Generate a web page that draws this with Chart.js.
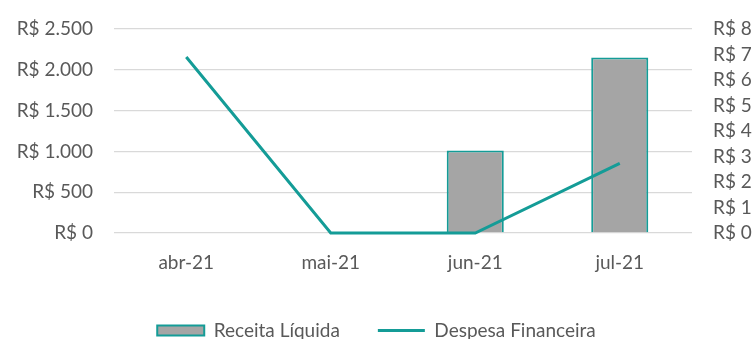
<!DOCTYPE html>
<html>
<head>
<meta charset="utf-8">
<script src="https://cdn.jsdelivr.net/npm/chart.js@4/dist/chart.umd.min.js"></script>
<style>
  html, body { margin: 0; padding: 0; background: #ffffff; }
  #wrap { width: 753px; height: 339px; }
</style>
</head>
<body>
<div id="wrap"><canvas id="chart" width="753" height="339"></canvas></div>
<script>
const months = ['abr-21', 'mai-21', 'jun-21', 'jul-21'];
const receitaLiquida = [0, 0, 1010, 2150];
const despesaFinanceira = [6.9, 0, 0, 2.73];
const leftTicks = [0, 500, 1000, 1500, 2000, 2500];
const rightTicks = [0, 1, 2, 3, 4, 5, 6, 7, 8];

const TEAL = '#149C97';
const GRAY = '#A5A5A5';
const TEXT = '#595959';
const FONT = { family: 'Lato', size: 19 };
const CLEAR = 'rgba(0,0,0,0)';

function brl(v) {
  return 'R$ ' + String(v).replace(/\B(?=(\d{3})+(?!\d))/g, '.');
}

new Chart(document.getElementById('chart'), {
  data: {
    labels: months,
    datasets: [
      {
        type: 'line',
        label: 'Despesa Financeira',
        data: despesaFinanceira,
        yAxisID: 'y2',
        borderColor: TEAL,
        backgroundColor: TEAL,
        borderWidth: 3,
        pointRadius: 0,
        tension: 0,
        clip: 6,
        order: 0
      },
      {
        type: 'bar',
        label: 'Receita Líquida',
        data: receitaLiquida,
        yAxisID: 'y',
        backgroundColor: GRAY,
        borderColor: TEAL,
        borderWidth: 2,
        barPercentage: 0.395,
        categoryPercentage: 1,
        order: 1
      }
    ]
  },
  options: {
    responsive: false,
    animation: false,
    layout: { padding: { top: 29, bottom: -11, left: 0, right: 0 } },
    scales: {
      x: {
        grid: { display: false, drawTicks: false },
        border: { display: false },
        ticks: { color: TEXT, font: FONT, padding: 18 },
        afterFit: s => { s.height = 50; }
      },
      y: {
        position: 'left',
        min: 0, max: 2500,
        afterBuildTicks: s => { s.ticks = leftTicks.map(v => ({ value: v })); },
        grid: { color: '#D9D9D9', lineWidth: 1.3, drawTicks: true, tickLength: 21, tickColor: CLEAR },
        border: { display: false },
        ticks: { color: TEXT, font: FONT, padding: 0, autoSkip: false, callback: v => brl(v) },
        afterFit: s => { s.width = 114; }
      },
      y2: {
        position: 'right',
        min: 0, max: 8,
        afterBuildTicks: s => { s.ticks = rightTicks.map(v => ({ value: v })); },
        grid: { drawOnChartArea: false, drawTicks: true, tickLength: 21, tickColor: CLEAR },
        border: { display: false },
        ticks: { color: TEXT, font: FONT, padding: 0, autoSkip: false, callback: v => brl(v) },
        afterFit: s => { s.width = 61; }
      }
    },
    plugins: {
      tooltip: { enabled: false },
      legend: {
        position: 'bottom',
        reverse: true,
        labels: {
          color: TEXT,
          font: FONT,
          usePointStyle: true,
          pointStyleWidth: 47,
          boxHeight: 10,
          padding: 38,
          generateLabels: chart => {
            const items = Chart.defaults.plugins.legend.labels.generateLabels(chart);
            items.forEach(it => {
              it.pointStyle = chart.data.datasets[it.datasetIndex].type === 'bar' ? 'rect' : 'line';
            });
            return items;
          }
        }
      }
    }
  }
});
</script>
</body>
</html>
